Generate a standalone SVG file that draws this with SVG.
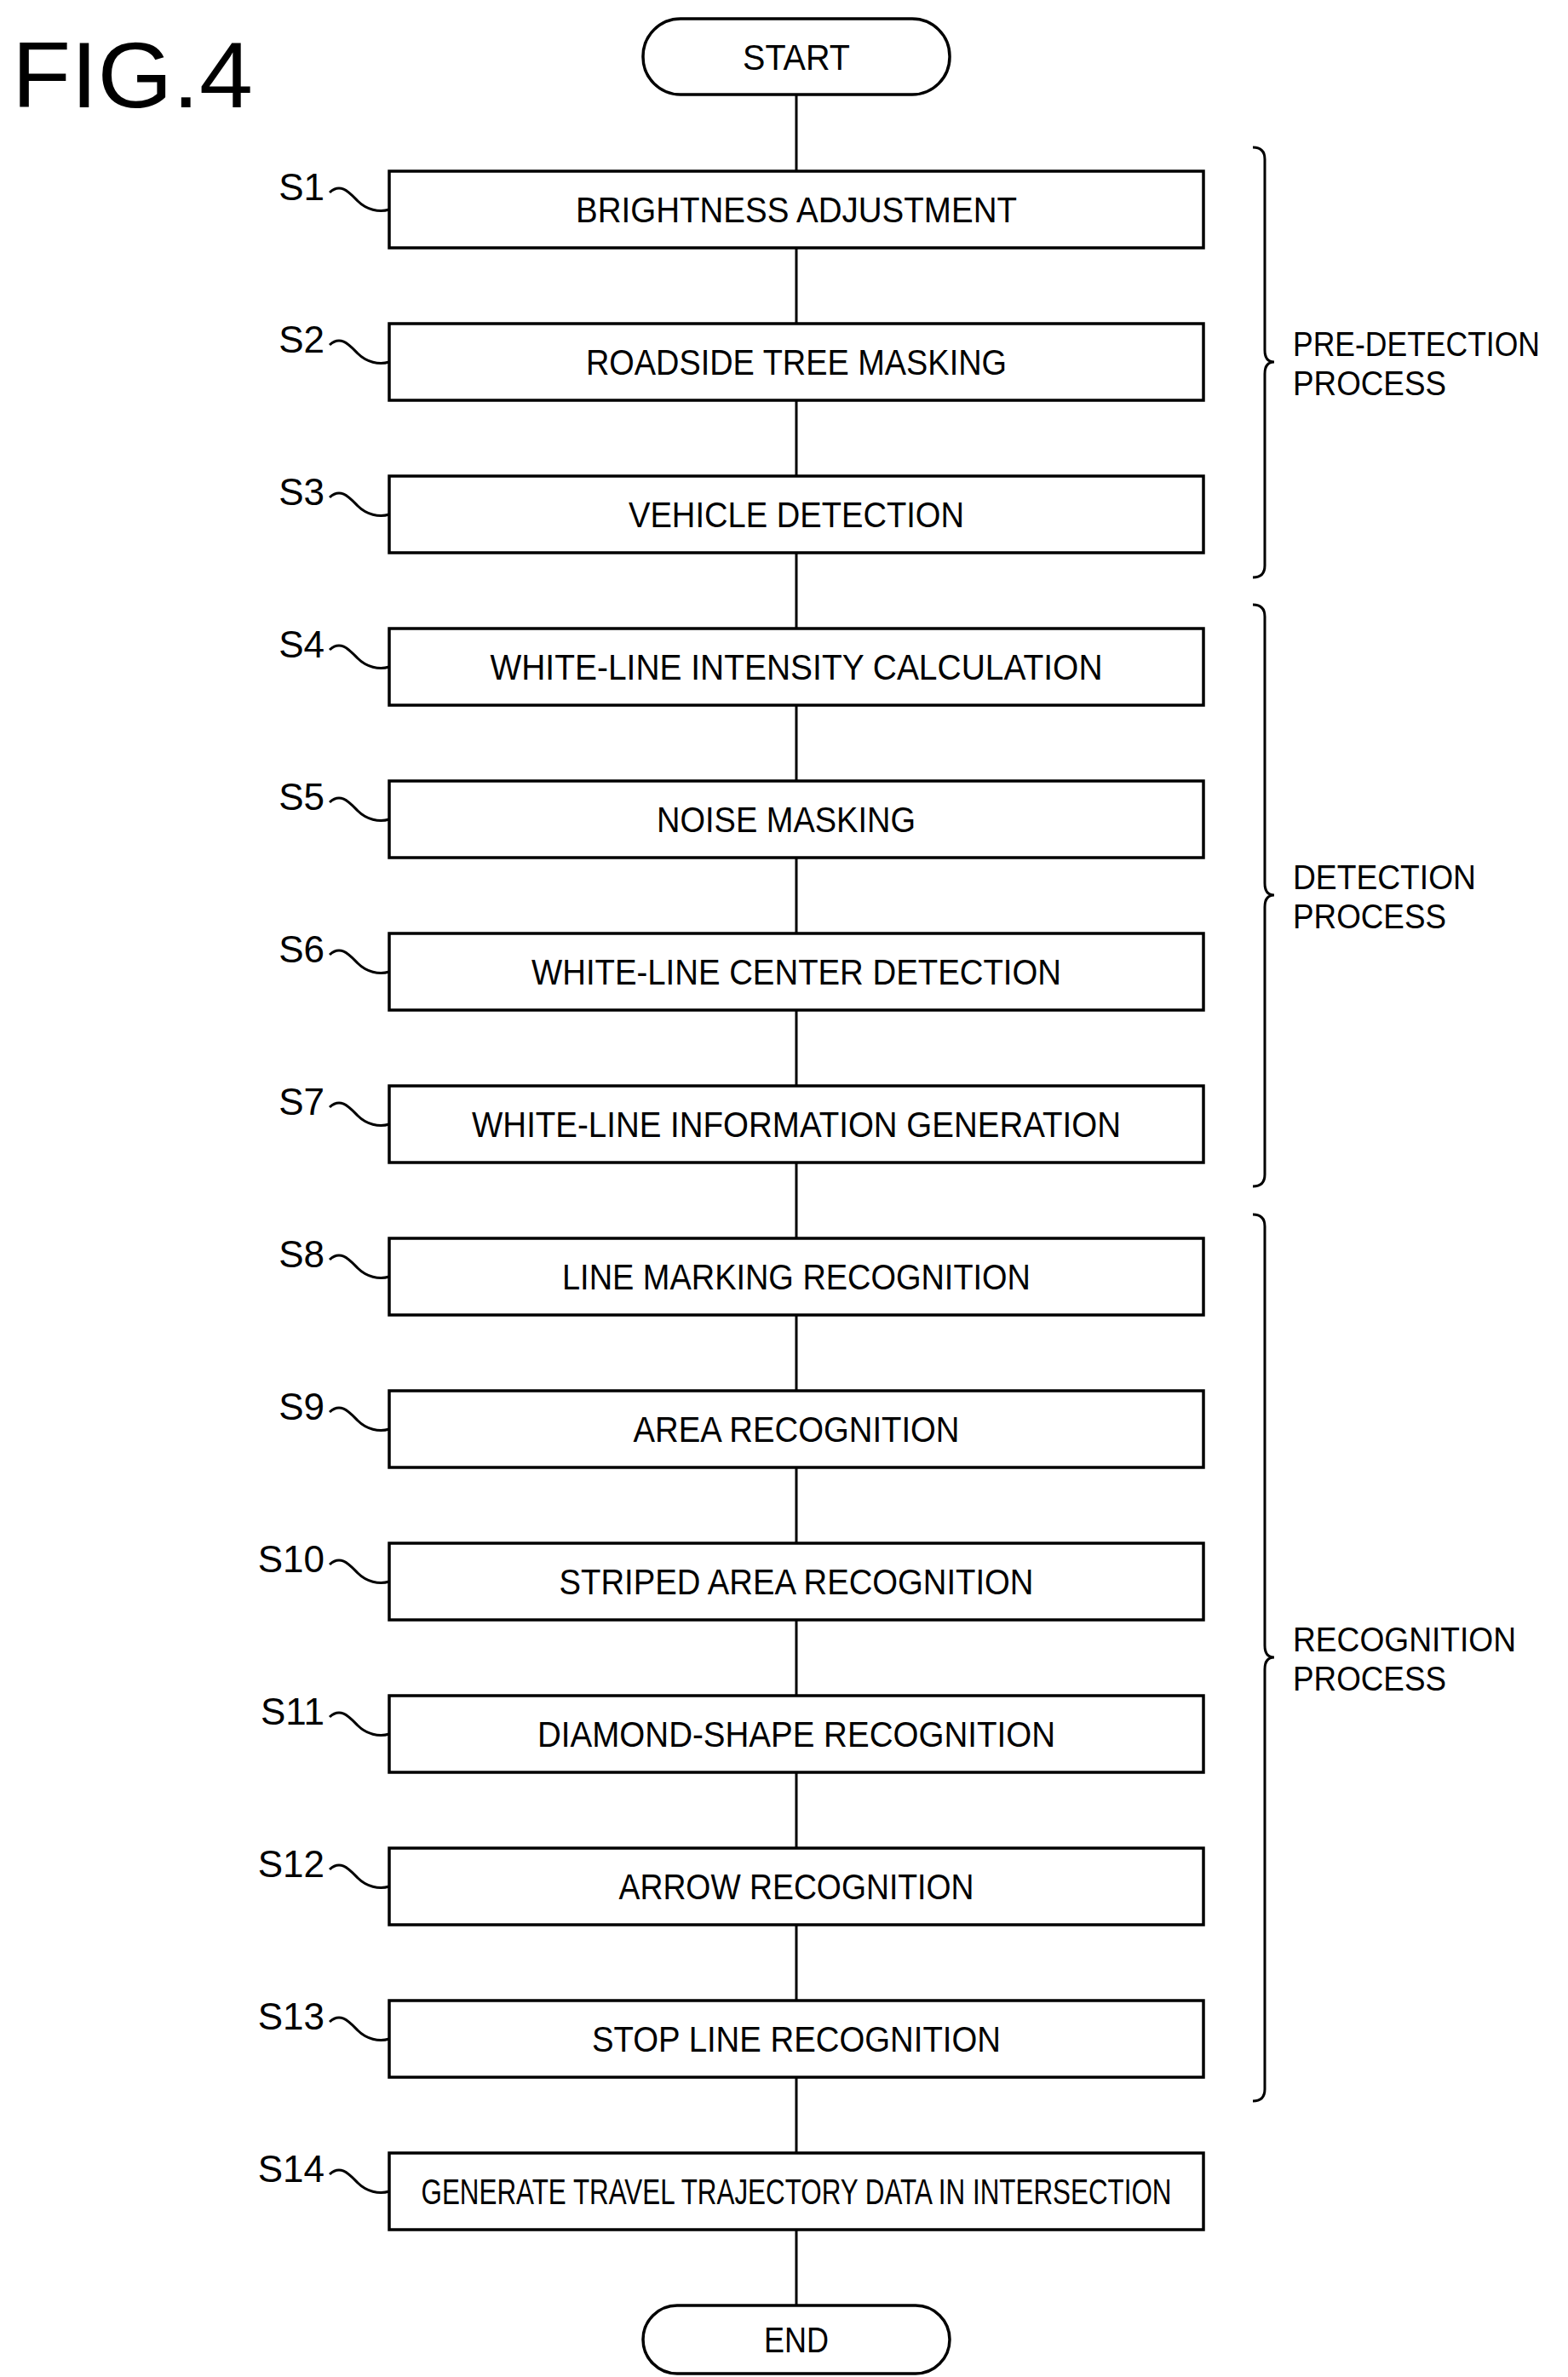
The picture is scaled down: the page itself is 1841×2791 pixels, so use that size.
<svg xmlns="http://www.w3.org/2000/svg" width="1841" height="2791" viewBox="0 0 1841 2791">
<style>
.b{fill:#fff;stroke:#000;stroke-width:3.5}
.t{font-family:"Liberation Sans",Arial,sans-serif;font-size:42px;text-anchor:middle;fill:#000}
.l{font-family:"Liberation Sans",Arial,sans-serif;font-size:44px;text-anchor:end;fill:#000}
.p{font-family:"Liberation Sans",Arial,sans-serif;font-size:40px;fill:#000}
.c{fill:none;stroke:#000;stroke-width:3}
</style>
<rect width="1841" height="2791" fill="#fff"/>
<text x="14" y="126" font-family="Liberation Sans,Arial,sans-serif" font-size="110" textLength="283" lengthAdjust="spacingAndGlyphs">FIG.4</text>
<g id="connectors">
<line class="c" x1="935" y1="111" x2="935" y2="2707"/>
<path class="c" d="M387,226 C400,214 410,226 420,236 S445,250 457,246"/>
<path class="c" d="M387,405 C400,393 410,405 420,415 S445,429 457,425"/>
<path class="c" d="M387,584 C400,572 410,584 420,594 S445,608 457,604"/>
<path class="c" d="M387,763 C400,751 410,763 420,773 S445,787 457,783"/>
<path class="c" d="M387,942 C400,930 410,942 420,952 S445,966 457,962"/>
<path class="c" d="M387,1121 C400,1109 410,1121 420,1131 S445,1145 457,1141"/>
<path class="c" d="M387,1300 C400,1288 410,1300 420,1310 S445,1324 457,1320"/>
<path class="c" d="M387,1479 C400,1467 410,1479 420,1489 S445,1503 457,1499"/>
<path class="c" d="M387,1658 C400,1646 410,1658 420,1668 S445,1682 457,1678"/>
<path class="c" d="M387,1837 C400,1825 410,1837 420,1847 S445,1861 457,1857"/>
<path class="c" d="M387,2016 C400,2004 410,2016 420,2026 S445,2040 457,2036"/>
<path class="c" d="M387,2195 C400,2183 410,2195 420,2205 S445,2219 457,2215"/>
<path class="c" d="M387,2374 C400,2362 410,2374 420,2384 S445,2398 457,2394"/>
<path class="c" d="M387,2553 C400,2541 410,2553 420,2563 S445,2577 457,2573"/>
</g>
<g id="start"><rect class="b" x="755" y="22" width="360" height="89" rx="44"/><text class="t" x="935" y="82" textLength="126" lengthAdjust="spacingAndGlyphs">START</text></g>
<g id="s1"><rect class="b" x="457" y="201" width="956" height="90"/><text class="t" x="935" y="261" textLength="518" lengthAdjust="spacingAndGlyphs">BRIGHTNESS ADJUSTMENT</text><text class="l" x="381" y="235">S1</text></g>
<g id="s2"><rect class="b" x="457" y="380" width="956" height="90"/><text class="t" x="935" y="440" textLength="494" lengthAdjust="spacingAndGlyphs">ROADSIDE TREE MASKING</text><text class="l" x="381" y="414">S2</text></g>
<g id="s3"><rect class="b" x="457" y="559" width="956" height="90"/><text class="t" x="935" y="619" textLength="394" lengthAdjust="spacingAndGlyphs">VEHICLE DETECTION</text><text class="l" x="381" y="593">S3</text></g>
<g id="s4"><rect class="b" x="457" y="738" width="956" height="90"/><text class="t" x="935" y="798" textLength="719" lengthAdjust="spacingAndGlyphs">WHITE-LINE INTENSITY CALCULATION</text><text class="l" x="381" y="772">S4</text></g>
<g id="s5"><rect class="b" x="457" y="917" width="956" height="90"/><text class="t" x="923" y="977" textLength="304" lengthAdjust="spacingAndGlyphs">NOISE MASKING</text><text class="l" x="381" y="951">S5</text></g>
<g id="s6"><rect class="b" x="457" y="1096" width="956" height="90"/><text class="t" x="935" y="1156" textLength="622" lengthAdjust="spacingAndGlyphs">WHITE-LINE CENTER DETECTION</text><text class="l" x="381" y="1130">S6</text></g>
<g id="s7"><rect class="b" x="457" y="1275" width="956" height="90"/><text class="t" x="935" y="1335" textLength="762" lengthAdjust="spacingAndGlyphs">WHITE-LINE INFORMATION GENERATION</text><text class="l" x="381" y="1309">S7</text></g>
<g id="s8"><rect class="b" x="457" y="1454" width="956" height="90"/><text class="t" x="935" y="1514" textLength="550" lengthAdjust="spacingAndGlyphs">LINE MARKING RECOGNITION</text><text class="l" x="381" y="1488">S8</text></g>
<g id="s9"><rect class="b" x="457" y="1633" width="956" height="90"/><text class="t" x="935" y="1693" textLength="383" lengthAdjust="spacingAndGlyphs">AREA RECOGNITION</text><text class="l" x="381" y="1667">S9</text></g>
<g id="s10"><rect class="b" x="457" y="1812" width="956" height="90"/><text class="t" x="935" y="1872" textLength="557" lengthAdjust="spacingAndGlyphs">STRIPED AREA RECOGNITION</text><text class="l" x="381" y="1846">S10</text></g>
<g id="s11"><rect class="b" x="457" y="1991" width="956" height="90"/><text class="t" x="935" y="2051" textLength="608" lengthAdjust="spacingAndGlyphs">DIAMOND-SHAPE RECOGNITION</text><text class="l" x="381" y="2025">S11</text></g>
<g id="s12"><rect class="b" x="457" y="2170" width="956" height="90"/><text class="t" x="935" y="2230" textLength="417" lengthAdjust="spacingAndGlyphs">ARROW RECOGNITION</text><text class="l" x="381" y="2204">S12</text></g>
<g id="s13"><rect class="b" x="457" y="2349" width="956" height="90"/><text class="t" x="935" y="2409" textLength="480" lengthAdjust="spacingAndGlyphs">STOP LINE RECOGNITION</text><text class="l" x="381" y="2383">S13</text></g>
<g id="s14"><rect class="b" x="457" y="2528" width="956" height="90"/><text class="t" x="935" y="2588" textLength="881" lengthAdjust="spacingAndGlyphs">GENERATE TRAVEL TRAJECTORY DATA IN INTERSECTION</text><text class="l" x="381" y="2562">S14</text></g>
<g id="end"><rect class="b" x="755" y="2707" width="360" height="80" rx="40"/><text class="t" x="935" y="2762" textLength="76" lengthAdjust="spacingAndGlyphs">END</text></g>
<g id="brace-pre"><path class="c" d="M1471,173 q14,0 14,14 V411 q0,14 11,14 q-11,0 -11,14 V664 q0,14 -14,14"/><text class="p" x="1518" y="418" textLength="290" lengthAdjust="spacingAndGlyphs">PRE-DETECTION</text><text class="p" x="1518" y="464" textLength="180" lengthAdjust="spacingAndGlyphs">PROCESS</text></g>
<g id="brace-det"><path class="c" d="M1471,710 q14,0 14,14 V1037 q0,14 11,14 q-11,0 -11,14 V1379 q0,14 -14,14"/><text class="p" x="1518" y="1044" textLength="215" lengthAdjust="spacingAndGlyphs">DETECTION</text><text class="p" x="1518" y="1090" textLength="180" lengthAdjust="spacingAndGlyphs">PROCESS</text></g>
<g id="brace-rec"><path class="c" d="M1471,1426 q14,0 14,14 V1932 q0,14 11,14 q-11,0 -11,14 V2453 q0,14 -14,14"/><text class="p" x="1518" y="1939" textLength="262" lengthAdjust="spacingAndGlyphs">RECOGNITION</text><text class="p" x="1518" y="1985" textLength="180" lengthAdjust="spacingAndGlyphs">PROCESS</text></g>
</svg>
